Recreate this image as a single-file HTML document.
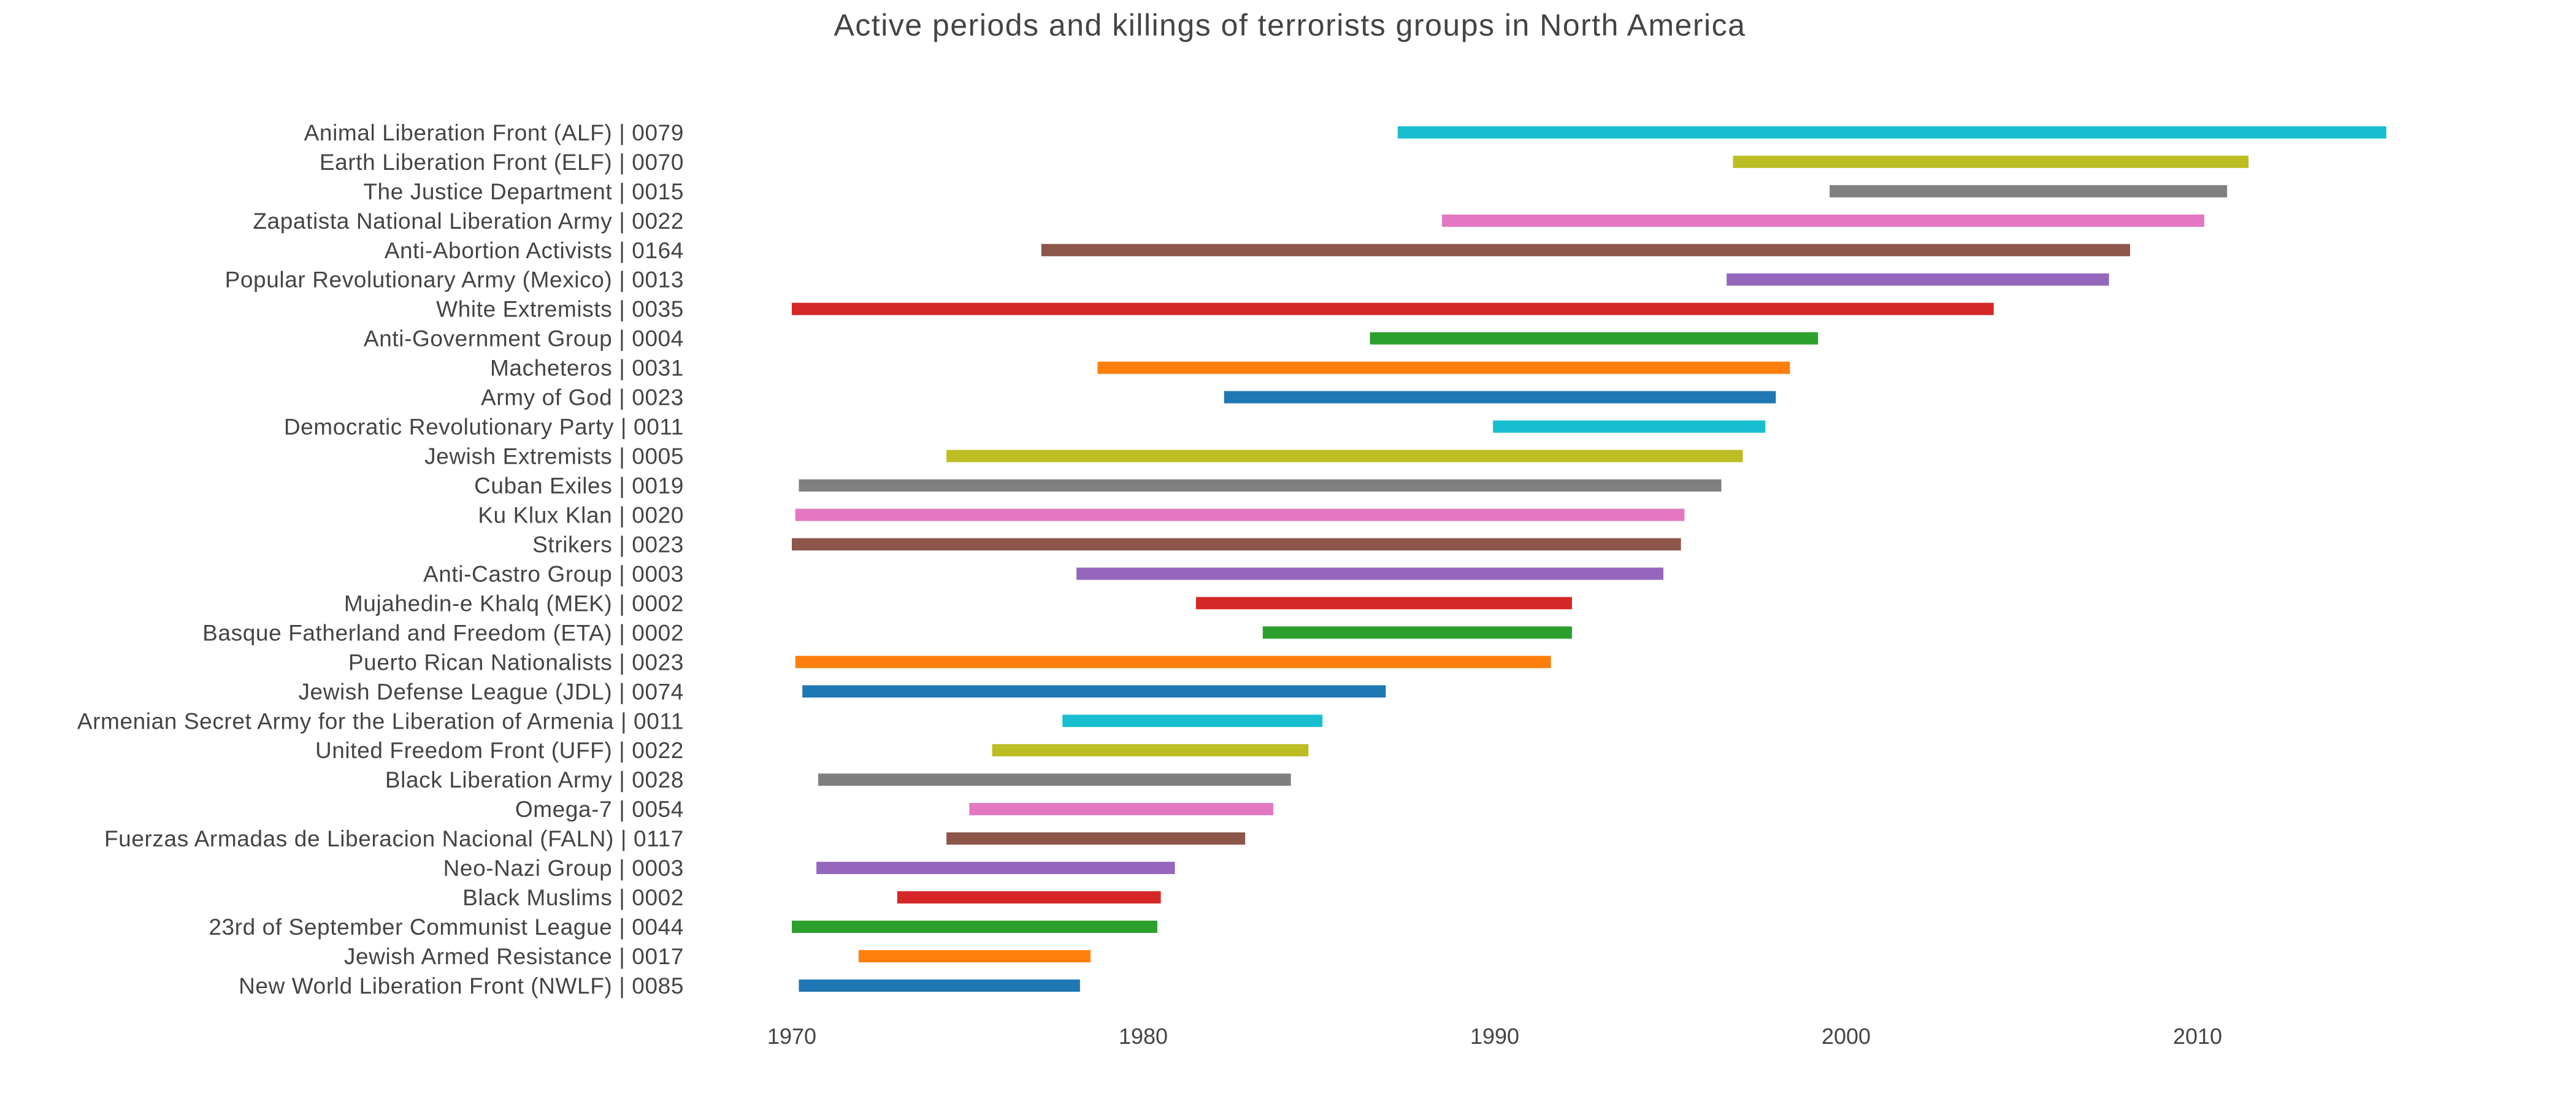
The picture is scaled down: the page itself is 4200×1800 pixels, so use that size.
<!DOCTYPE html>
<html><head><meta charset="utf-8"><style>
html,body{margin:0;padding:0;background:#fff;}
svg{display:block;font-family:"Liberation Sans",sans-serif;}
</style></head><body>
<svg id="chart" width="4200" height="1800" viewBox="0 0 4200 1800">
<text x="2103" y="58" text-anchor="middle" font-size="50" letter-spacing="1.5" fill="#444">Active periods and killings of terrorists groups in North America</text>
<g id="bars"></g>
<g id="ylabels"></g>
<g id="xticks"></g>
</svg>
<script>
const groups = ["New World Liberation Front (NWLF) | 0085","Jewish Armed Resistance | 0017","23rd of September Communist League | 0044","Black Muslims | 0002","Neo-Nazi Group | 0003","Fuerzas Armadas de Liberacion Nacional (FALN) | 0117","Omega-7 | 0054","Black Liberation Army | 0028","United Freedom Front (UFF) | 0022","Armenian Secret Army for the Liberation of Armenia | 0011","Jewish Defense League (JDL) | 0074","Puerto Rican Nationalists | 0023","Basque Fatherland and Freedom (ETA) | 0002","Mujahedin-e Khalq (MEK) | 0002","Anti-Castro Group | 0003","Strikers | 0023","Ku Klux Klan | 0020","Cuban Exiles | 0019","Jewish Extremists | 0005","Democratic Revolutionary Party | 0011","Army of God | 0023","Macheteros | 0031","Anti-Government Group | 0004","White Extremists | 0035","Popular Revolutionary Army (Mexico) | 0013","Anti-Abortion Activists | 0164","Zapatista National Liberation Army | 0022","The Justice Department | 0015","Earth Liberation Front (ELF) | 0070","Animal Liberation Front (ALF) | 0079"];
const startYears = [1970.2,1971.9,1970.0,1973.0,1970.7,1974.4,1975.05,1970.75,1975.7,1977.7,1970.3,1970.1,1983.4,1981.5,1978.1,1970.0,1970.1,1970.2,1974.4,1989.95,1982.3,1978.7,1986.45,1970.0,1996.6,1977.1,1988.5,1999.53,1996.78,1987.24];
const endYears = [1978.2,1978.5,1980.4,1980.5,1980.9,1982.9,1983.7,1984.2,1984.7,1985.1,1986.9,1991.6,1992.2,1992.2,1994.8,1995.3,1995.4,1996.45,1997.06,1997.7,1998.0,1998.4,1999.2,2004.2,2007.48,2008.08,2010.19,2010.84,2011.45,2015.37];
const tickYears = [1970,1980,1990,2000,2010];
const colors = ["#1f77b4","#ff7f0e","#2ca02c","#d62728","#9467bd","#8c564b","#e377c2","#7f7f7f","#bcbd22","#17becf"];
const NS="http://www.w3.org/2000/svg";
function xScale(y){return 1291+(y-1970)*57.3;}
function yScale(i){return 1607-i*47.97;}
const bars=document.getElementById('bars'),yl=document.getElementById('ylabels'),xt=document.getElementById('xticks');
groups.forEach((g,i)=>{
  const r=document.createElementNS(NS,'rect');
  r.setAttribute('x',xScale(startYears[i]));
  r.setAttribute('y',yScale(i)-10);
  r.setAttribute('width',xScale(endYears[i])-xScale(startYears[i]));
  r.setAttribute('height',20);
  r.setAttribute('fill',colors[i%10]);
  
  
  bars.appendChild(r);
  const t=document.createElementNS(NS,'text');
  t.setAttribute('x',1115);
  t.setAttribute('y',yScale(i)+13);
  t.setAttribute('text-anchor','end');
  t.setAttribute('font-size','37');
  t.setAttribute('letter-spacing','0.6');
  t.setAttribute('fill','#444');
  t.textContent=g;
  
  
  yl.appendChild(t);
});
tickYears.forEach(y=>{
  const t=document.createElementNS(NS,'text');
  t.setAttribute('x',xScale(y));
  t.setAttribute('y',1702);
  t.setAttribute('text-anchor','middle');
  t.setAttribute('font-size','36');
  t.setAttribute('fill','#444');
  t.textContent=y;
  
  
  xt.appendChild(t);
});
</script>
</body></html>
